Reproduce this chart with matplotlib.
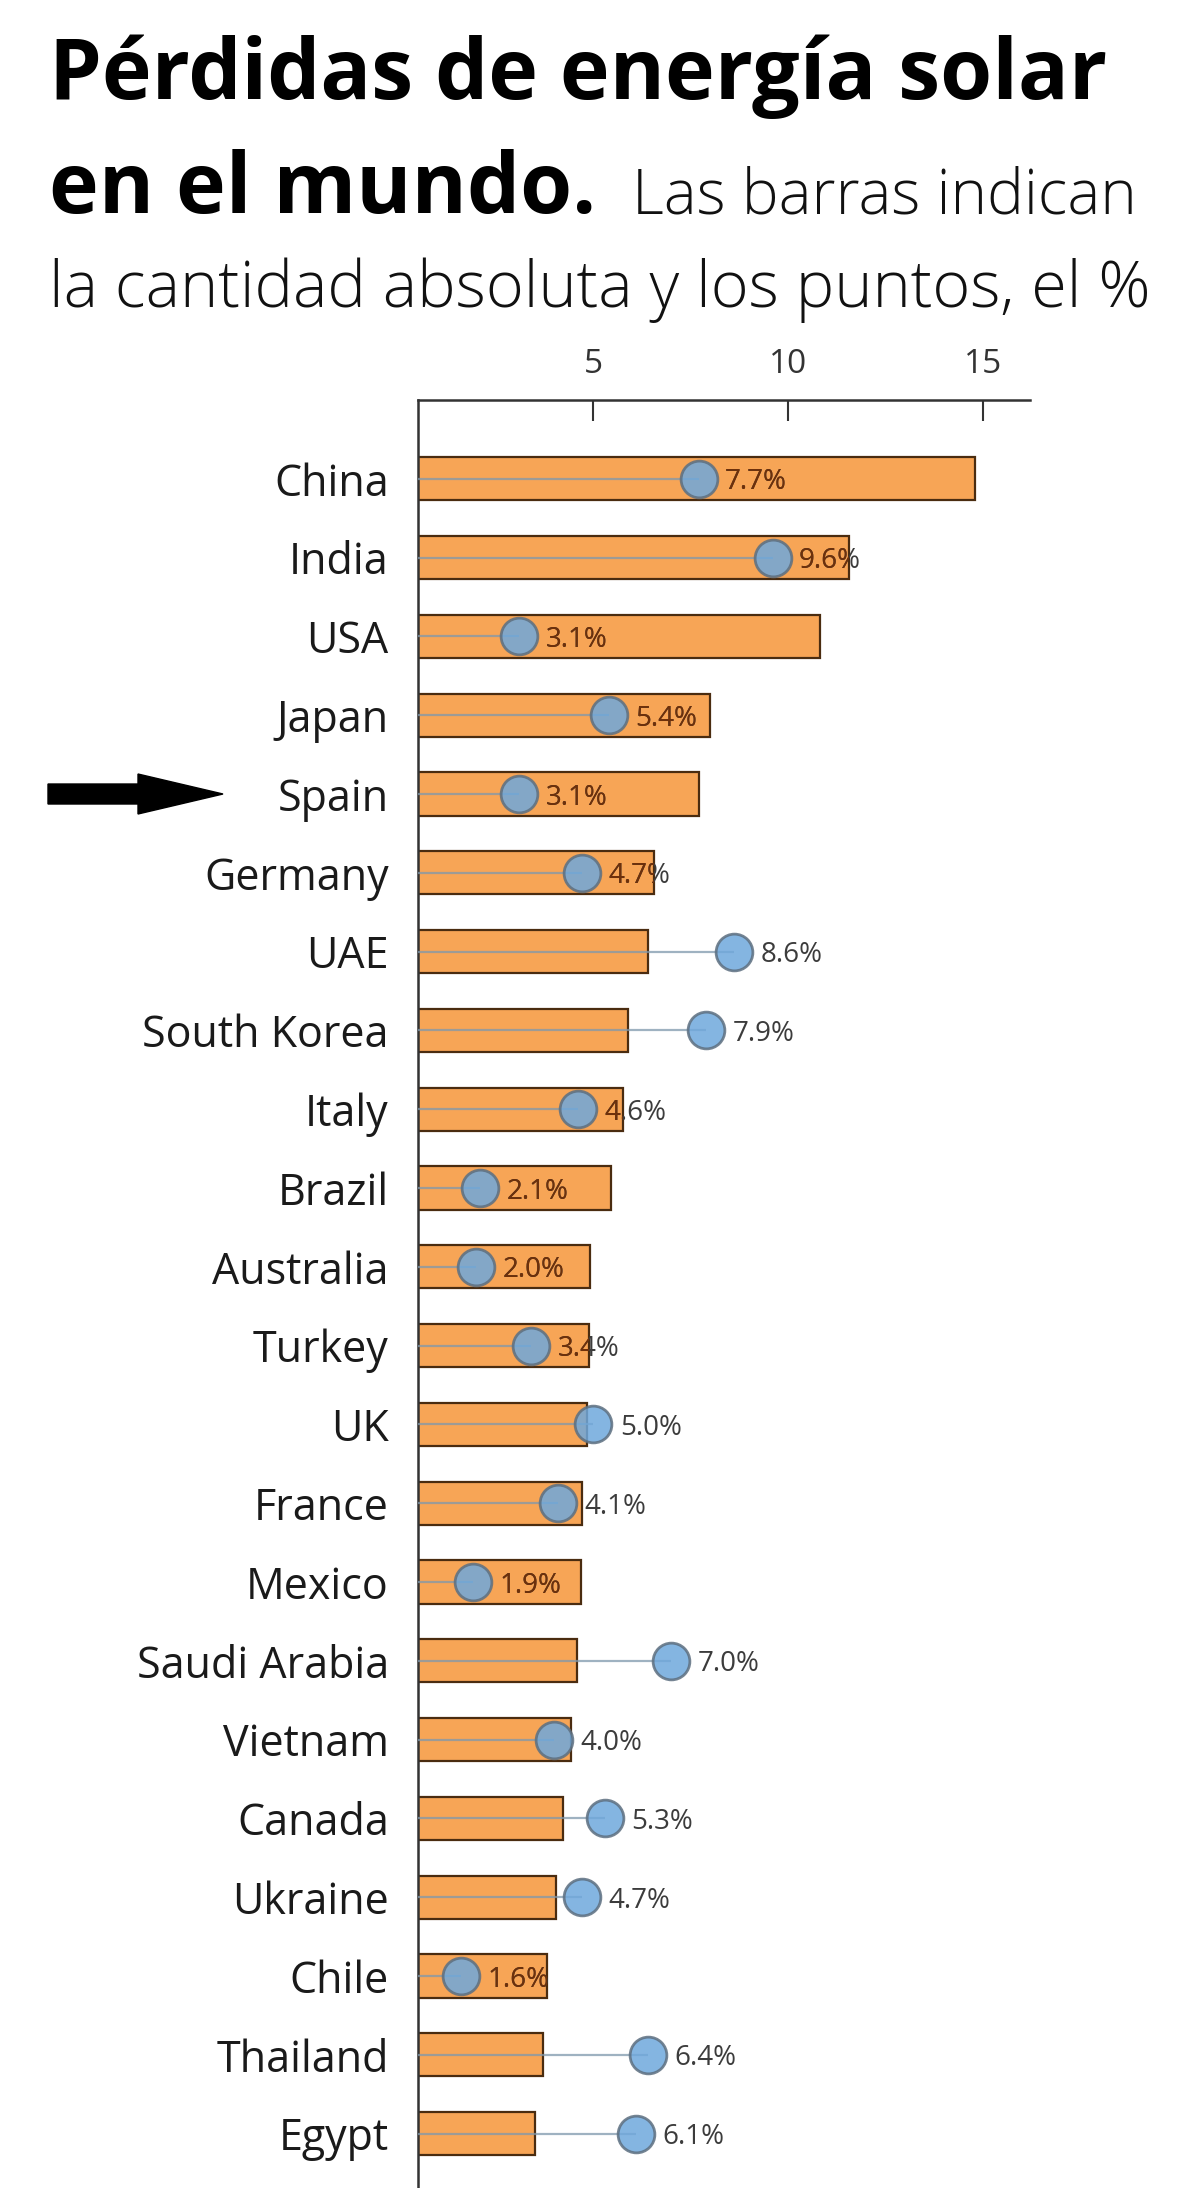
import matplotlib
matplotlib.use("Agg")
import matplotlib.pyplot as plt
import matplotlib.transforms as mtransforms
from matplotlib.patches import FancyArrow
import numpy as np

# data
countries = ["China", "India", "USA", "Japan", "Spain", "Germany", "UAE",
             "South Korea", "Italy", "Brazil", "Australia", "Turkey", "UK",
             "France", "Mexico", "Saudi Arabia", "Vietnam", "Canada",
             "Ukraine", "Chile", "Thailand", "Egypt"]
losses = [14.8, 11.55, 10.8, 8.0, 7.7, 6.55, 6.4, 5.9, 5.75, 5.45, 4.9,
          4.88, 4.83, 4.72, 4.67, 4.57, 4.42, 4.21, 4.03, 3.8, 3.7, 3.5]
pct = [7.7, 9.6, 3.1, 5.4, 3.1, 4.7, 8.6, 7.9, 4.6, 2.1, 2.0, 3.4, 5.0,
       4.1, 1.9, 7.0, 4.0, 5.3, 4.7, 1.6, 6.4, 6.1]
xticks = [5, 10, 15]
highlight = "Spain"

title1 = "Pérdidas de energía solar"
title2 = "en el mundo."
sub1 = "Las barras indican"
sub2 = "la cantidad absoluta y los puntos, el %"

W, H = 1200, 2188
fig = plt.figure(figsize=(W / 100, H / 100), dpi=100)
fig.patch.set_facecolor("white")
r = fig.canvas.get_renderer()


def fit(txt, width_px):
    w = txt.get_window_extent(r).width
    txt.set_fontsize(txt.get_fontsize() * width_px / w)


# title block
t1 = fig.text(49 / W, 1 - 99 / H, title1, fontsize=60, fontweight="bold",
              family="Open Sans", va="baseline", color="black")
fit(t1, 1059)
t2 = fig.text(49 / W, 1 - 213 / H, title2, fontsize=t1.get_fontsize(),
              fontweight="bold", family="Open Sans", va="baseline", color="black")
s2 = fig.text(49 / W, 1 - 307 / H, sub2, fontsize=40, family="Open Sans",
              fontweight="light", va="baseline", color="#111111")
fit(s2, 1098)
s1 = fig.text(632 / W, 1 - 213 / H, sub1, fontsize=s2.get_fontsize(),
              family="Open Sans", fontweight="light", va="baseline", color="#111111")
fit(s1, 505)

# chart
ax = fig.add_axes([418 / W, 0, (1030 - 418) / W, 1 - 400 / H])
y = np.arange(len(countries))
bars = ax.barh(y, losses, height=0.55, color="#f7a556", edgecolor="#4a2c10",
               linewidth=1.6, zorder=2)
ax.hlines(y, 0, pct, color="#7f98ad", lw=1.6, alpha=0.75, zorder=3)
ax.scatter(pct, y, s=700, color="#6fa8dc", alpha=0.85, edgecolors="#5d6f80",
           linewidths=2, zorder=4)

off = mtransforms.ScaledTranslation(19 / 72, 0, fig.dpi_scale_trans)
for i, (p, b) in enumerate(zip(pct, bars)):
    lab = f"{p:.1f}%"
    ax.text(p, i, lab, transform=ax.transData + off, va="center_baseline",
            ha="left", fontsize=20, color="#3c3c3c", family="Open Sans", zorder=5)
    tb = ax.text(p, i, lab, transform=ax.transData + off, va="center_baseline",
                 ha="left", fontsize=20, color="#6e300a", family="Open Sans", zorder=6)
    tb.set_clip_on(True)
    tb.set_clip_path(b)

ax.set_xlim(0.5, 16.2)
ax.set_ylim(len(countries) - 0.31, -1.0)
ax.xaxis.tick_top()
ax.set_xticks(xticks)
ax.tick_params(axis="x", direction="in", length=15, width=1.5, labelsize=24,
               pad=14, color="#333333", labelcolor="#333333")
ax.set_yticks(y, countries)
ax.tick_params(axis="y", length=0, pad=21, labelsize=31, labelcolor="#1a1a1a")
for lab in ax.get_xticklabels() + ax.get_yticklabels():
    lab.set_family("Open Sans")
for s in ["right", "bottom"]:
    ax.spines[s].set_visible(False)
for s in ["top", "left"]:
    ax.spines[s].set_color("#333333")
    ax.spines[s].set_linewidth(1.8)

# arrow pointing at Spain
ys = ax.transData.transform((0.5, countries.index(highlight)))[1]
arr = FancyArrow(48, ys, 175, 0, width=20, head_width=40, head_length=85,
                 length_includes_head=True, color="black",
                 transform=mtransforms.IdentityTransform())
fig.add_artist(arr)

fig.savefig("out.png", dpi=100)
